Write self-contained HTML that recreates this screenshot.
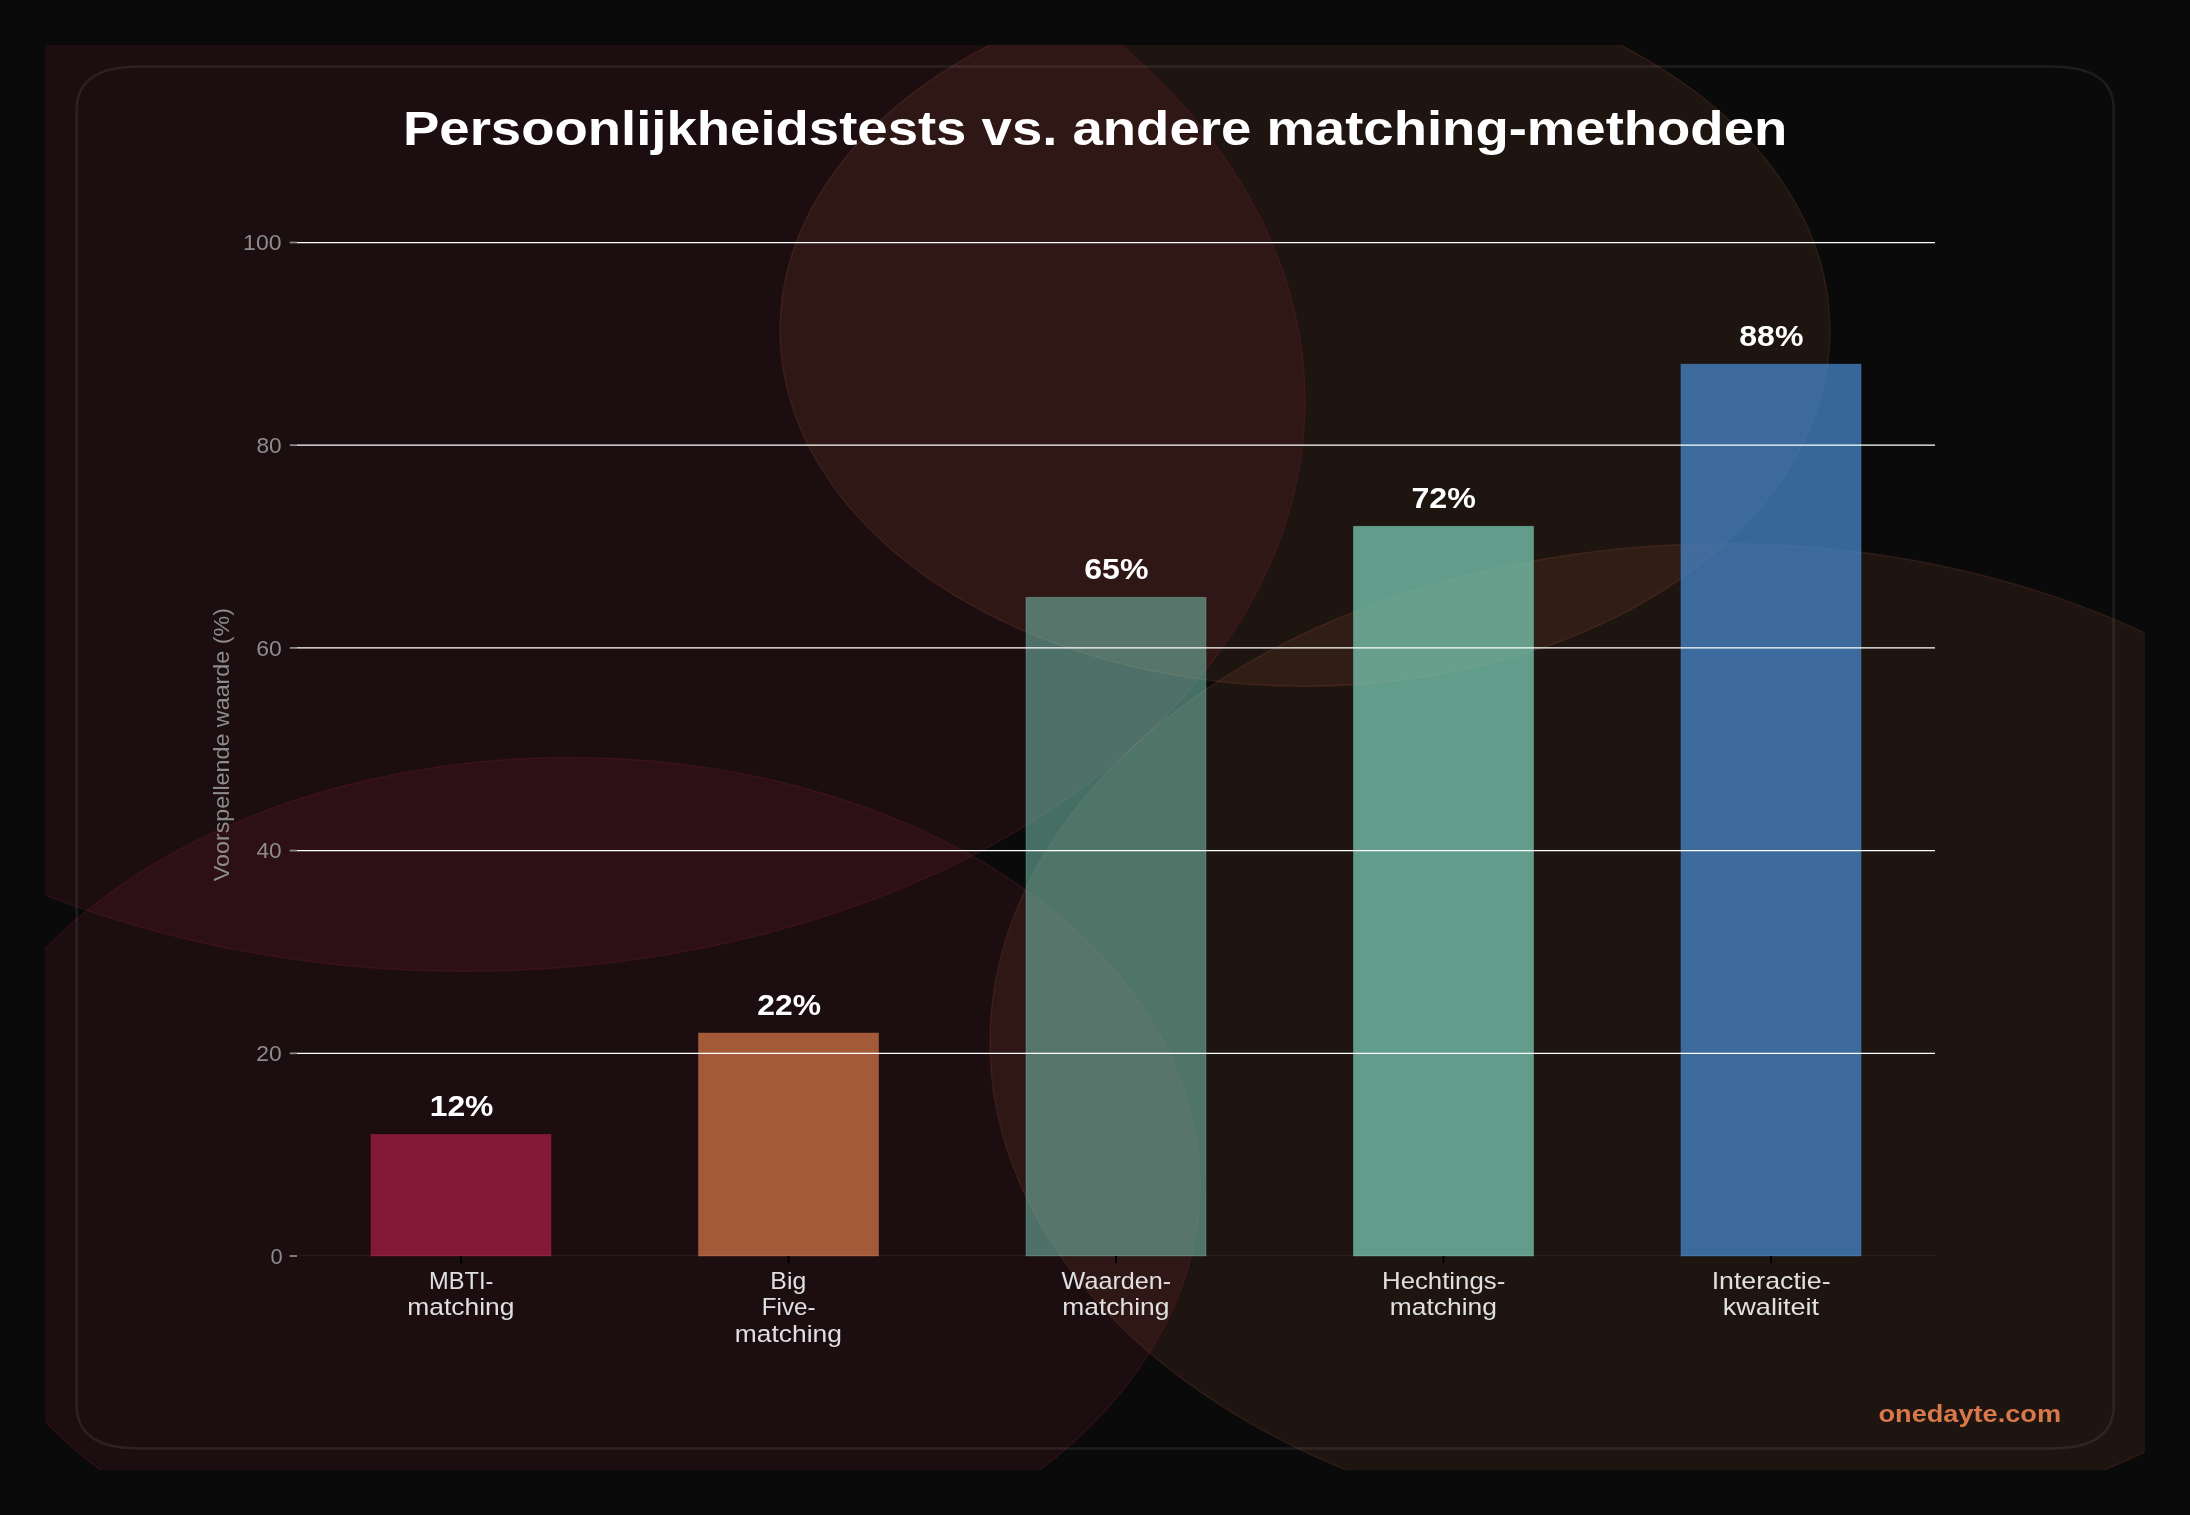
<!DOCTYPE html><html><head><meta charset="utf-8"><style>html,body{margin:0;padding:0;background:#0a0a0a;width:2190px;height:1515px;overflow:hidden}svg{display:block}svg{will-change:transform}</style></head><body><svg width="2190" height="1515" viewBox="0 0 2190 1515">
<defs><clipPath id="fig"><rect x="45" y="45" width="2100" height="1425"/></clipPath></defs>
<rect x="0" y="0" width="2190" height="1515" fill="#0a0a0a"/>
<g clip-path="url(#fig)">
<ellipse cx="465" cy="401.25" rx="840" ry="570" fill="#8f2438" fill-opacity="0.14"/>
<ellipse cx="1305" cy="330" rx="525" ry="356.25" fill="#d4714a" fill-opacity="0.1"/>
<ellipse cx="570" cy="1185" rx="630" ry="427.5" fill="#8f2438" fill-opacity="0.14"/>
<ellipse cx="1725" cy="1042.5" rx="735" ry="498.75" fill="#d4714a" fill-opacity="0.1"/>
<ellipse cx="465" cy="401.25" rx="840" ry="570" fill="none" stroke="#8f2438" stroke-opacity="0.22" stroke-width="1.4"/>
<ellipse cx="1305" cy="330" rx="525" ry="356.25" fill="none" stroke="#d4714a" stroke-opacity="0.14" stroke-width="1.4"/>
<ellipse cx="570" cy="1185" rx="630" ry="427.5" fill="none" stroke="#8f2438" stroke-opacity="0.22" stroke-width="1.4"/>
<ellipse cx="1725" cy="1042.5" rx="735" ry="498.75" fill="none" stroke="#d4714a" stroke-opacity="0.14" stroke-width="1.4"/>
</g>
<path d="M139.7,66.4 L2050.7,66.4 Q2113.7,66.4 2113.7,109.15 L2113.7,1405.75 Q2113.7,1448.5 2050.7,1448.5 L139.7,1448.5 Q76.7,1448.5 76.7,1405.75 L76.7,109.15 Q76.7,66.4 139.7,66.4 Z" fill="none" stroke="#ffffff" stroke-opacity="0.08" stroke-width="2.5"/>
<text x="402.98" y="145.25" font-family="Liberation Sans, sans-serif" font-weight="bold" font-size="47.66" fill="#ffffff" textLength="1384.33" lengthAdjust="spacingAndGlyphs">Persoonlijkheidstests vs. andere matching-methoden</text>
<rect x="370.95" y="1134.38" width="180.1" height="121.62" fill="#971c3e" fill-opacity="0.85" stroke="#971c3e" stroke-opacity="0.51" stroke-width="0.8"/>
<rect x="698.45" y="1033.03" width="180.1" height="222.97" fill="#bb6941" fill-opacity="0.85" stroke="#bb6941" stroke-opacity="0.51" stroke-width="0.8"/>
<rect x="1025.95" y="597.23" width="180.1" height="658.77" fill="#80d4c0" fill-opacity="0.5" stroke="#80d4c0" stroke-opacity="0.30" stroke-width="0.8"/>
<rect x="1353.45" y="526.28" width="180.1" height="729.72" fill="#79c9b4" fill-opacity="0.75" stroke="#79c9b4" stroke-opacity="0.45" stroke-width="0.8"/>
<rect x="1680.95" y="364.12" width="180.1" height="891.88" fill="#4787cb" fill-opacity="0.75" stroke="#4787cb" stroke-opacity="0.45" stroke-width="0.8"/>
<line x1="297" y1="1053.30" x2="1935" y2="1053.30" stroke="#ffffff" stroke-opacity="1" stroke-width="1.25"/>
<line x1="297" y1="850.60" x2="1935" y2="850.60" stroke="#ffffff" stroke-opacity="1" stroke-width="1.25"/>
<line x1="297" y1="647.90" x2="1935" y2="647.90" stroke="#ffffff" stroke-opacity="1" stroke-width="1.25"/>
<line x1="297" y1="445.20" x2="1935" y2="445.20" stroke="#ffffff" stroke-opacity="1" stroke-width="1.25"/>
<line x1="297" y1="242.50" x2="1935" y2="242.50" stroke="#ffffff" stroke-opacity="1" stroke-width="1.25"/>
<line x1="297" y1="1255.4" x2="1935" y2="1255.4" stroke="#ffffff" stroke-opacity="0.05" stroke-width="1.2"/>
<line x1="289.7" y1="1256.00" x2="297" y2="1256.00" stroke="#888888" stroke-width="1.8"/>
<text x="270.45" y="1263.80" font-family="Liberation Sans, sans-serif" font-size="22.91" fill="#8c8c8c" textLength="12.16" lengthAdjust="spacingAndGlyphs">0</text>
<line x1="289.7" y1="1053.30" x2="297" y2="1053.30" stroke="#888888" stroke-width="1.8"/>
<text x="256.15" y="1061.10" font-family="Liberation Sans, sans-serif" font-size="22.91" fill="#8c8c8c" textLength="25.48" lengthAdjust="spacingAndGlyphs">20</text>
<line x1="289.7" y1="850.60" x2="297" y2="850.60" stroke="#888888" stroke-width="1.8"/>
<text x="256.41" y="858.40" font-family="Liberation Sans, sans-serif" font-size="22.91" fill="#8c8c8c" textLength="25.22" lengthAdjust="spacingAndGlyphs">40</text>
<line x1="289.7" y1="647.90" x2="297" y2="647.90" stroke="#888888" stroke-width="1.8"/>
<text x="256.15" y="655.70" font-family="Liberation Sans, sans-serif" font-size="22.91" fill="#8c8c8c" textLength="25.48" lengthAdjust="spacingAndGlyphs">60</text>
<line x1="289.7" y1="445.20" x2="297" y2="445.20" stroke="#888888" stroke-width="1.8"/>
<text x="256.41" y="453.00" font-family="Liberation Sans, sans-serif" font-size="22.91" fill="#8c8c8c" textLength="25.22" lengthAdjust="spacingAndGlyphs">80</text>
<line x1="289.7" y1="242.50" x2="297" y2="242.50" stroke="#888888" stroke-width="1.8"/>
<text x="243.14" y="250.30" font-family="Liberation Sans, sans-serif" font-size="22.91" fill="#8c8c8c" textLength="38.49" lengthAdjust="spacingAndGlyphs">100</text>
<line x1="461.0" y1="1256.0" x2="461.0" y2="1263.3" stroke="#000000" stroke-width="1.8"/>
<text x="429.00" y="1289.00" font-family="Liberation Sans, sans-serif" font-size="23.84" fill="#e0e0e0" textLength="64.35" lengthAdjust="spacingAndGlyphs">MBTI-</text>
<text x="407.38" y="1315.40" font-family="Liberation Sans, sans-serif" font-size="23.84" fill="#e0e0e0" textLength="107.04" lengthAdjust="spacingAndGlyphs">matching</text>
<line x1="788.5" y1="1256.0" x2="788.5" y2="1263.3" stroke="#000000" stroke-width="1.8"/>
<text x="770.35" y="1289.00" font-family="Liberation Sans, sans-serif" font-size="23.84" fill="#e0e0e0" textLength="35.84" lengthAdjust="spacingAndGlyphs">Big</text>
<text x="761.81" y="1315.40" font-family="Liberation Sans, sans-serif" font-size="23.84" fill="#e0e0e0" textLength="53.77" lengthAdjust="spacingAndGlyphs">Five-</text>
<text x="734.88" y="1341.80" font-family="Liberation Sans, sans-serif" font-size="23.84" fill="#e0e0e0" textLength="107.04" lengthAdjust="spacingAndGlyphs">matching</text>
<line x1="1116.0" y1="1256.0" x2="1116.0" y2="1263.3" stroke="#000000" stroke-width="1.8"/>
<text x="1061.61" y="1289.00" font-family="Liberation Sans, sans-serif" font-size="23.84" fill="#e0e0e0" textLength="109.61" lengthAdjust="spacingAndGlyphs">Waarden-</text>
<text x="1062.38" y="1315.40" font-family="Liberation Sans, sans-serif" font-size="23.84" fill="#e0e0e0" textLength="107.04" lengthAdjust="spacingAndGlyphs">matching</text>
<line x1="1443.5" y1="1256.0" x2="1443.5" y2="1263.3" stroke="#000000" stroke-width="1.8"/>
<text x="1382.04" y="1289.00" font-family="Liberation Sans, sans-serif" font-size="23.84" fill="#e0e0e0" textLength="123.20" lengthAdjust="spacingAndGlyphs">Hechtings-</text>
<text x="1389.88" y="1315.40" font-family="Liberation Sans, sans-serif" font-size="23.84" fill="#e0e0e0" textLength="107.04" lengthAdjust="spacingAndGlyphs">matching</text>
<line x1="1771.0" y1="1256.0" x2="1771.0" y2="1263.3" stroke="#000000" stroke-width="1.8"/>
<text x="1711.65" y="1289.00" font-family="Liberation Sans, sans-serif" font-size="23.84" fill="#e0e0e0" textLength="118.91" lengthAdjust="spacingAndGlyphs">Interactie-</text>
<text x="1722.68" y="1315.40" font-family="Liberation Sans, sans-serif" font-size="23.84" fill="#e0e0e0" textLength="96.49" lengthAdjust="spacingAndGlyphs">kwaliteit</text>
<text x="429.68" y="1116.08" font-family="Liberation Sans, sans-serif" font-weight="bold" font-size="29.11" fill="#ffffff" textLength="63.74" lengthAdjust="spacingAndGlyphs">12%</text>
<text x="757.25" y="1014.73" font-family="Liberation Sans, sans-serif" font-weight="bold" font-size="29.11" fill="#ffffff" textLength="63.67" lengthAdjust="spacingAndGlyphs">22%</text>
<text x="1084.24" y="578.93" font-family="Liberation Sans, sans-serif" font-weight="bold" font-size="29.11" fill="#ffffff" textLength="64.19" lengthAdjust="spacingAndGlyphs">65%</text>
<text x="1411.46" y="507.98" font-family="Liberation Sans, sans-serif" font-weight="bold" font-size="29.11" fill="#ffffff" textLength="64.47" lengthAdjust="spacingAndGlyphs">72%</text>
<text x="1739.24" y="345.82" font-family="Liberation Sans, sans-serif" font-weight="bold" font-size="29.11" fill="#ffffff" textLength="64.19" lengthAdjust="spacingAndGlyphs">88%</text>
<text x="-136.01" y="0" font-family="Liberation Sans, sans-serif" font-size="22.29" fill="#8c8c8c" textLength="273.21" lengthAdjust="spacingAndGlyphs" transform="translate(229.2,745.25) rotate(-90)">Voorspellende waarde (%)</text>
<text x="1878.46" y="1422.10" font-family="Liberation Sans, sans-serif" font-weight="bold" font-size="23.84" fill="#d9784a" textLength="182.68" lengthAdjust="spacingAndGlyphs">onedayte.com</text>
</svg></body></html>
